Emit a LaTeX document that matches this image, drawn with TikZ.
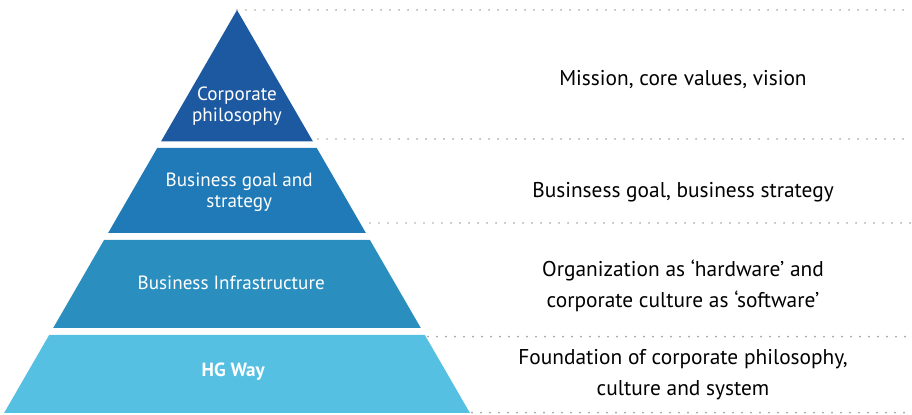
\documentclass[tikz,border=0pt]{standalone}
\usepackage{fontspec}
\setmainfont{PT Sans}
\usetikzlibrary{positioning}
\definecolor{tierA}{RGB}{29,89,160}
\definecolor{tierB}{RGB}{33,122,184}
\definecolor{tierC}{RGB}{42,143,190}
\definecolor{tierD}{RGB}{86,192,227}
\definecolor{dotgray}{RGB}{170,162,154}
\tikzset{
  tiertext/.style={white,align=center,font=\fontsize{13.6}{15}\selectfont},
  desc/.style={black,align=center,font=\fontsize{15.2}{22}\selectfont},
  sep/.style={dotgray,line width=1.4pt,line cap=round,dash pattern=on 0pt off 0.225cm}
}

\begin{document}
\begin{tikzpicture}
  \useasboundingbox (0,0) rectangle (22.8,10.375);
  % the four tiers of the pyramid
  \def\apex{10.125}
  \foreach \t/\b/\c in {10.125/6.84/tierA,6.675/4.55/tierB,4.375/2.175/tierC,2.0/0.05/tierD}{
    \pgfmathsetmacro\wt{(\apex-\t)*0.578}
    \pgfmathsetmacro\wb{(\apex-\b)*0.578}
    \fill[\c] (5.925-\wt,\t) -- (5.925+\wt,\t) -- (5.925+\wb,\b) -- (5.925-\wb,\b) -- cycle;
  }
  % dotted separators
  \coordinate (top) at (5.925,10.125);
  \coordinate (s1) at (7.95,6.9);
  \coordinate (s2) at (9.25,4.8);
  \coordinate (s3) at (10.7,1.96);
  \coordinate (s4) at (11.8,0.06);
  \foreach \s in {top,s1,s2,s3,s4}
    \draw[sep] (\s) -- (\s -| 22.8,0);
  % tier labels
  \node[tiertext] (philo) at (5.925,7.72) {Corporate\\philosophy};
  \node[tiertext] (goal) at (5.98,5.56) {Business goal and\\strategy};
  \node[tiertext] (infra) at (5.78,3.3) {Business Infrastructure};
  \node[tiertext,font=\fontsize{13.6}{15}\selectfont\bfseries] (way) at (5.83,1.075) {HG Way};
  % descriptions
  \node[desc] (mission) at (17.075,8.375) {Mission, core values, vision};
  \node[desc] (strategy) at (17.075,5.575) {Businsess goal, business strategy};
  \node[desc] (org) at (17.075,3.225) {Organization as ‘hardware’ and\\corporate culture as ‘software’};
  \node[desc] (base) at (17.075,1.0) {Foundation of corporate philosophy,\\culture and system};
\end{tikzpicture}
\end{document}
